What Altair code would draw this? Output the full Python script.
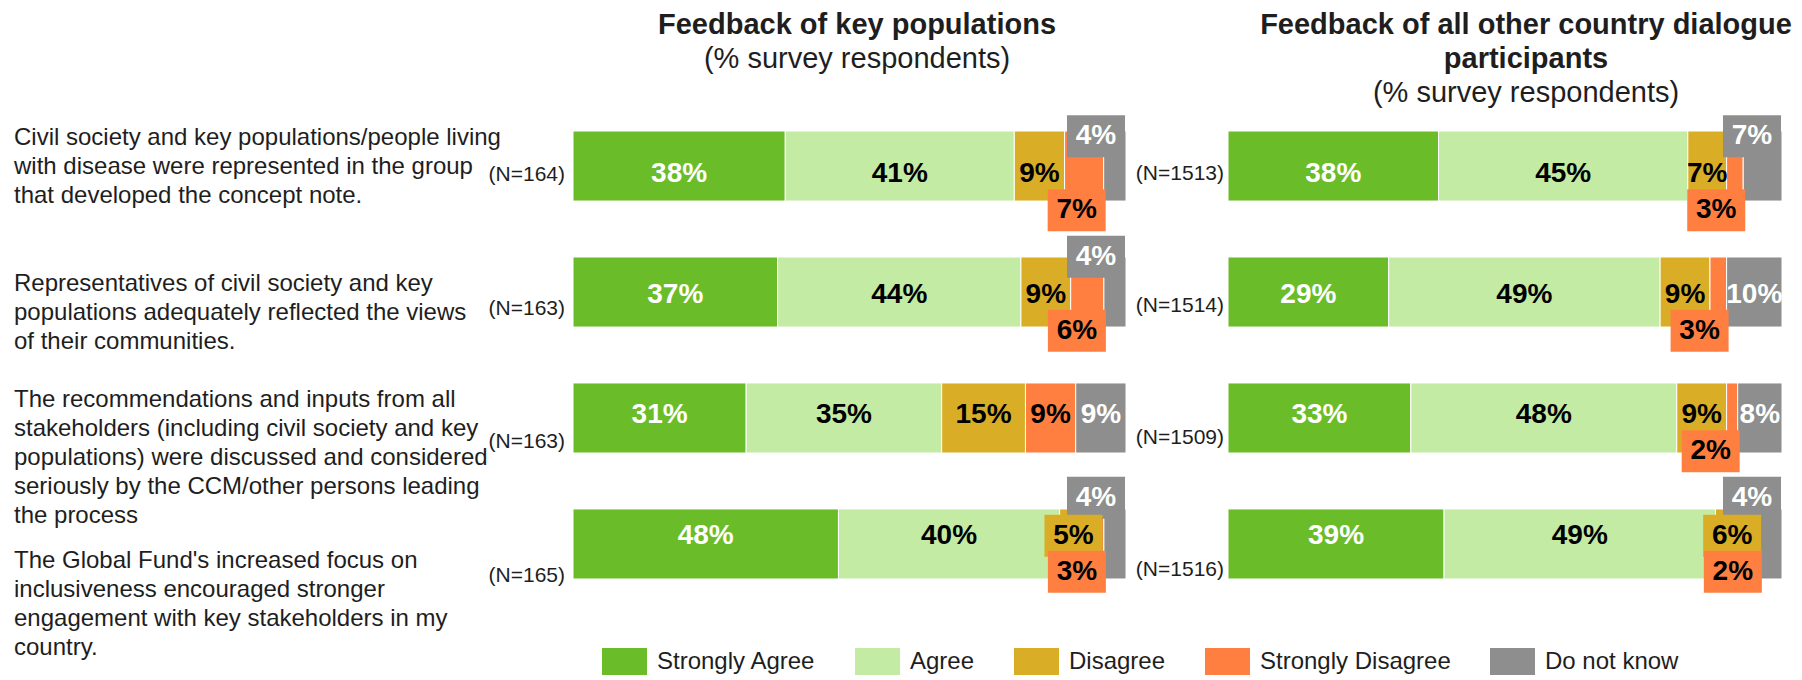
import altair as alt
import pandas as pd

FONT = "Liberation Sans"
TEXT_COLOR = "#1e1e1e"

categories = ["Strongly Agree", "Agree", "Disagree", "Strongly Disagree", "Do not know"]
palette = ["#6abd28", "#c4eba4", "#d9ae26", "#ff7f41", "#8e8e8e"]

questions = [
    "Civil society and key populations/people living\nwith disease were represented in the group\nthat developed the concept note.",
    "Representatives of civil society and key\npopulations adequately reflected the views\nof their communities.",
    "The recommendations and inputs from all\nstakeholders (including civil society and key\npopulations) were discussed and considered\nseriously by the CCM/other persons leading\nthe process",
    "The Global Fund's increased focus on\ninclusiveness encouraged stronger\nengagement with key stakeholders in my\ncountry.",
]

kp_title = ["Feedback of key populations"]
oth_title = ["Feedback of all other country dialogue", "participants"]
subtitle = "(% survey respondents)"

# Feedback of key populations
kp_n = [164, 163, 163, 165]
kp_strongly_agree = [38, 37, 31, 48]
kp_agree = [41, 44, 35, 40]
kp_disagree = [9, 9, 15, 5]
kp_strongly_disagree = [7, 6, 9, 3]
kp_do_not_know = [4, 4, 9, 4]

# Feedback of all other country dialogue participants
oth_n = [1513, 1514, 1509, 1516]
oth_strongly_agree = [38, 29, 33, 39]
oth_agree = [45, 49, 48, 49]
oth_disagree = [7, 9, 9, 6]
oth_strongly_disagree = [3, 3, 2, 2]
oth_do_not_know = [7, 10, 8, 4]

# small segments get their label in a coloured box next to the bar
BOX_BELOW = {"Disagree": 7, "Strongly Disagree": 8, "Do not know": 8}
ROWS = list(range(len(questions)))


def build_frame(series):
    recs = []
    for i in ROWS:
        vals = [s[i] for s in series]
        total = float(sum(vals))
        cum = 0
        for cat, v in zip(categories, vals):
            start = cum / total
            cum += v
            end = cum / total
            recs.append(dict(row=i, category=cat, value=v, start=start, end=end,
                             mid=(start + end) / 2, label=f"{v}%",
                             boxed=bool(v < BOX_BELOW.get(cat, 0))))
    return pd.DataFrame(recs)


BOX = "M-1,-0.724H1V0.724H-1Z"

legend = alt.Legend(
    orient="none", legendX=38, legendY=534, direction="horizontal", columns=5,
    title=None, symbolType="M-1.667,-1H1.667V1H-1.667Z", symbolSize=729,
    symbolStrokeWidth=0, symbolOpacity=1, labelFontSize=24, labelFont=FONT,
    labelColor=TEXT_COLOR, labelOffset=19, columnPadding=38, labelLimit=0,
    padding=0,
)

# description text: one datum per line
DESC_RANGE = [53, 490]
DESC_LINE = 29
desc_step = (DESC_RANGE[1] - DESC_RANGE[0]) / (len(questions) - 1)
desc_recs = []
for i, q in enumerate(questions):
    lines = q.split("\n")
    for j, line in enumerate(lines):
        desc_recs.append(dict(row=i, pos=i + (j - (len(lines) - 1) / 2) * DESC_LINE / desc_step,
                              text=line))
desc_df = pd.DataFrame(desc_recs)


def text_line(t, x, y, bold):
    return alt.Chart(pd.DataFrame({"t": [t]})).mark_text(
        font=FONT, fontSize=29, fontWeight="bold" if bold else "normal",
        color=TEXT_COLOR, align="center", baseline="middle"
    ).encode(x=alt.value(x), y=alt.value(y), text="t:N")


def panel(df, nvals, title_lines, title_cx, n_x, n_range, width, with_desc):
    rows_df = pd.DataFrame({"row": ROWS, "n": [f"(N={v})" for v in nvals]})
    yband = alt.Y("row:O", axis=None,
                  scale=alt.Scale(domain=ROWS, paddingInner=0.444, paddingOuter=0.135))
    xs = alt.Scale(domain=[0, 1])
    base = alt.Chart(df)
    bars = base.mark_bar(stroke="white", strokeWidth=1).encode(
        x=alt.X("start:Q", scale=xs, axis=None), x2="end:Q", y=yband,
        color=alt.Color("category:N",
                        scale=alt.Scale(domain=categories, range=palette),
                        legend=legend),
    )
    inner = base.transform_filter("!datum.boxed").mark_text(
        font=FONT, fontSize=28, fontWeight="bold", baseline="middle"
    ).encode(
        x=alt.X("mid:Q", scale=xs, axis=None), y=yband, text="label:N",
        color=alt.condition(
            alt.FieldOneOfPredicate(field="category", oneOf=["Strongly Agree", "Do not know"]),
            alt.value("white"), alt.value("black")),
    )
    layers = [bars, inner]
    specs = [("Do not know", "end", -30, -38, "white"),
             ("Disagree", "mid", 0, 0, "black"),
             ("Strongly Disagree", "end", -27, 36, "black")]
    for cat, xfield, dx, dy, tcol in specs:
        sub = base.transform_filter(f"datum.boxed && datum.category == '{cat}'")
        box = sub.mark_point(shape=BOX, size=3364, filled=True, opacity=1,
                             strokeWidth=0, color=palette[categories.index(cat)],
                             xOffset=dx, yOffset=dy).encode(
            x=alt.X(f"{xfield}:Q", scale=xs, axis=None), y=yband)
        txt = sub.mark_text(font=FONT, fontSize=28, fontWeight="bold",
                            baseline="middle", dx=dx, dy=dy, color=tcol).encode(
            x=alt.X(f"{xfield}:Q", scale=xs, axis=None), y=yband, text="label:N")
        layers += [box, txt]
    nlab = alt.Chart(rows_df).mark_text(
        align="right", baseline="middle", font=FONT, fontSize=21, color=TEXT_COLOR
    ).encode(x=alt.value(n_x),
             y=alt.Y("row:Q", axis=None, scale=alt.Scale(domain=[0, 3], range=n_range)),
             text="n:N")
    layers.append(nlab)
    if with_desc:
        desc = alt.Chart(desc_df).mark_text(
            align="left", baseline="middle", font=FONT, fontSize=24, color=TEXT_COLOR
        ).encode(x=alt.value(-559),
                 y=alt.Y("pos:Q", axis=None, scale=alt.Scale(domain=[0, 3], range=DESC_RANGE)),
                 text="text:N")
        layers.append(desc)
    # titles
    for k, t in enumerate(title_lines):
        layers.append(text_line(t, title_cx, -89 + 34 * k, True))
    layers.append(text_line(subtitle, title_cx, -89 + 34 * len(title_lines), False))
    return alt.layer(*layers).resolve_scale(y="independent").properties(width=width, height=482)


kp_df = build_frame([kp_strongly_agree, kp_agree, kp_disagree,
                     kp_strongly_disagree, kp_do_not_know])
oth_df = build_frame([oth_strongly_agree, oth_agree, oth_disagree,
                      oth_strongly_disagree, oth_do_not_know])

left = panel(kp_df, kp_n, kp_title, 284, -8, [61, 462], 553, True)
right = panel(oth_df, oth_n, oth_title, 298, -4, [60, 456], 554, False)

chart = alt.hconcat(left, right, spacing=8).properties(
    padding={"left": 6, "top": 3, "right": 0, "bottom": 0}
).configure(font=FONT).configure_view(stroke="transparent", strokeWidth=0)

chart.save("out.html", embed_options={"renderer": "svg", "actions": False})
